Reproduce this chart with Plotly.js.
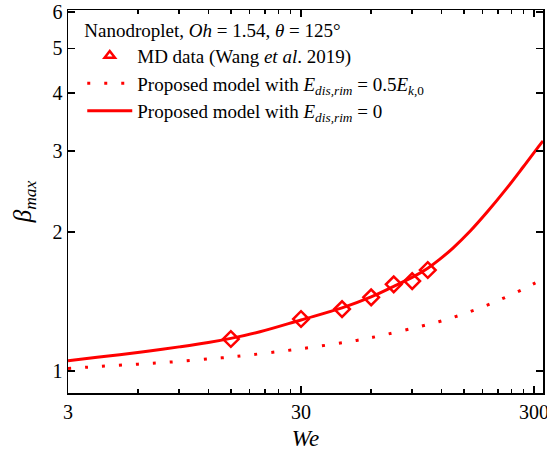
<!DOCTYPE html>
<html>
<head>
<meta charset="utf-8">
<script src="https://cdn.plot.ly/plotly-3.0.1.min.js"></script>
<style>html,body{margin:0;padding:0;background:#fff;}#chart{width:547px;height:456px;}</style>
</head>
<body>
<div id="chart"></div>
<script>
// MD data (Wang et al. 2019)
const mdWe   = [15, 30, 45, 60, 75, 90, 105];
const mdBeta = [1.173, 1.296, 1.362, 1.444, 1.541, 1.566, 1.655];

// Proposed model with E_dis,rim = 0 (solid)
const solidWe   = [3, 4, 5, 6.7, 9, 12, 15, 20, 30, 45, 60, 75, 90, 105, 118, 135, 159, 190, 228, 270, 318, 328];
const solidBeta = [1.053, 1.071, 1.085, 1.105, 1.128, 1.153, 1.177, 1.216, 1.29, 1.37, 1.447, 1.525, 1.595, 1.67, 1.745, 1.849, 2.005, 2.218, 2.48, 2.77, 3.09, 3.15];

// Proposed model with E_dis,rim = 0.5 E_k,0 (dotted)
const dotWe   = [3, 4.2, 6, 8.3, 13.7, 16, 31, 52, 61, 117, 159, 213, 277, 328];
const dotBeta = [1.013, 1.024, 1.035, 1.046, 1.068, 1.076, 1.12, 1.165, 1.183, 1.279, 1.344, 1.425, 1.515, 1.585];

// Tick values / labels
const xMajor = [3, 30, 300];
const xMinor = [6, 9, 12, 15, 18, 21, 24, 27, 60, 90, 120, 150, 180, 210, 240, 270];
const yMajor = [1, 2, 3, 4, 5, 6];

const red = '#ff0000';
const font = '"Liberation Serif", "Times New Roman", serif';
const xRange = [Math.log10(3), 2.5157];

const traces = [
  {x: [null], y: [null], type: 'scatter', mode: 'markers', name: 'MD data (Wang <i>et al</i>. 2019)',
   marker: {symbol: 'triangle-up-open', size: 9, color: red, line: {width: 2.5, color: red}}, legendrank: 1},
  {x: dotWe, y: dotBeta, type: 'scatter', mode: 'lines', line: {shape: 'spline', color: red, width: 3, dash: '3px,14px'},
   name: 'Proposed model with <i>E<sub>dis,rim</sub></i> = 0.5<i>E<sub>k</sub></i><sub>,0</sub>', legendrank: 2},
  {x: solidWe, y: solidBeta, type: 'scatter', mode: 'lines', line: {shape: 'spline', color: red, width: 3},
   name: 'Proposed model with <i>E<sub>dis,rim</sub></i> = 0', legendrank: 3},
  {x: mdWe, y: mdBeta, type: 'scatter', mode: 'markers', showlegend: false,
   marker: {symbol: 'diamond-open', size: 12, color: red, line: {width: 2.5, color: red}}},
  // carrier for the minor-tick overlay axis
  {x: [null], y: [null], xaxis: 'x2', type: 'scatter', mode: 'markers', showlegend: false, hoverinfo: 'skip'}
];

const layout = {
  width: 547, height: 456,
  margin: {l: 68, r: 4, t: 10, b: 63},
  paper_bgcolor: '#fff', plot_bgcolor: '#fff',
  font: {family: font, size: 19, color: '#000'},
  showlegend: true,
  legend: {
    x: 0.03, y: 0.995, xanchor: 'left', yanchor: 'top',
    bgcolor: 'rgba(0,0,0,0)', borderwidth: 0,
    font: {family: font, size: 19, color: '#000'},
    title: {text: 'Nanodroplet, <i>Oh</i> = 1.54, <i>θ</i> = 125°', font: {family: font, size: 19, color: '#000'}},
    tracegroupgap: 0, itemwidth: 45
  },
  xaxis: {
    type: 'log', range: xRange,
    tickmode: 'array', tickvals: xMajor, ticktext: xMajor.map(String),
    ticks: 'inside', ticklen: 7, tickwidth: 1.5, tickcolor: '#000',
    showline: true, linecolor: '#000', linewidth: 1.5, mirror: 'ticks',
    showgrid: false, zeroline: false, ticklabeloverflow: 'allow',
    tickfont: {family: font, size: 20, color: '#000'},
    title: {text: '<i>We</i>', font: {family: font, size: 23, color: '#000'}, standoff: 8}
  },
  xaxis2: {
    type: 'log', range: xRange, overlaying: 'x', anchor: 'y', side: 'bottom',
    tickmode: 'array', tickvals: xMinor, showticklabels: false,
    ticks: 'inside', ticklen: 4, tickwidth: 1.5, tickcolor: '#000',
    showline: true, linecolor: '#000', linewidth: 1.5, mirror: 'ticks',
    showgrid: false, zeroline: false
  },
  yaxis: {
    type: 'log', range: [-0.0476, 0.782],
    tickmode: 'array', tickvals: yMajor, ticktext: yMajor.map(String),
    ticks: 'inside', ticklen: 7, tickwidth: 1.5, tickcolor: '#000',
    showline: true, linecolor: '#000', linewidth: 1.5, mirror: 'ticks',
    showgrid: false, zeroline: false,
    tickfont: {family: font, size: 20, color: '#000'},
    title: {text: '<i>β<sub>max</sub></i>', font: {family: font, size: 25, color: '#000'}, standoff: 14}
  }
};

Plotly.newPlot('chart', traces, layout, {displayModeBar: false, staticPlot: true});
</script>
</body>
</html>
